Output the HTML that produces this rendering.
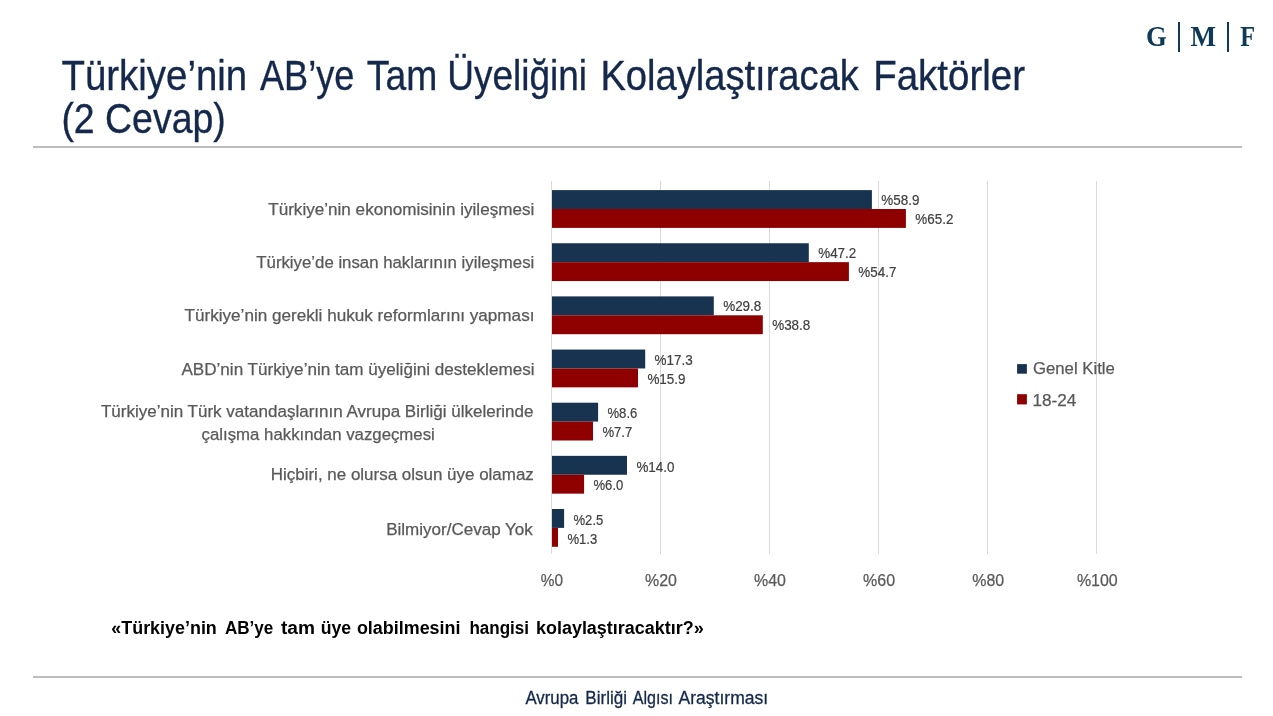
<!DOCTYPE html>
<html lang="tr">
<head>
<meta charset="utf-8">
<title>Türkiye’nin AB’ye Tam Üyeliğini Kolaylaştıracak Faktörler</title>
<style>
html,body{margin:0;padding:0;background:#fff;}
body{width:1273px;height:716px;position:relative;overflow:hidden;font-family:"Liberation Sans", Arial, Helvetica, sans-serif;}
.rule{position:absolute;left:33px;width:1209px;height:2px;background:#bdbdbd;}
.vbar{position:absolute;top:22px;height:29.5px;width:2px;background:#0f3a57;}
svg{position:absolute;left:0;top:0;width:1273px;height:716px;overflow:visible;}
text{font-family:"Liberation Sans", Arial, Helvetica, sans-serif;white-space:pre;}
.title{font-size:42.0px;fill:#14284b;stroke:#14284b;stroke-width:0.35px;}
.cat{font-size:16.7px;fill:#595959;stroke:#595959;stroke-width:0.25px;}
.dl{font-size:14.2px;fill:#404040;stroke:#404040;stroke-width:0.2px;}
.leg{font-size:17px;}
.ax{font-size:17.1px;}
.ax,.leg{fill:#595959;stroke:#595959;stroke-width:0.25px;}
.q{font-size:17.5px;font-weight:bold;fill:#000;}
.foot{font-size:18.0px;fill:#14284b;stroke:#14284b;stroke-width:0.3px;}
.logo{font-family:"Liberation Serif", "Times New Roman", serif;font-weight:bold;font-size:28.5px;fill:#0f3a57;}
</style>
</head>
<body>
<div class="rule" style="top:146px"></div>
<div class="rule" style="top:676px"></div>
<div class="vbar" style="left:1177.7px"></div>
<div class="vbar" style="left:1226.7px"></div>
<svg viewBox="0 0 1273 716" width="1273" height="716">
<g class="grid">
<rect x="551" y="181" width="1" height="373" fill="#d9d9d9"/>
<rect x="660" y="181" width="1" height="373" fill="#d9d9d9"/>
<rect x="769" y="181" width="1" height="373" fill="#d9d9d9"/>
<rect x="878" y="181" width="1" height="373" fill="#d9d9d9"/>
<rect x="987" y="181" width="1" height="373" fill="#d9d9d9"/>
<rect x="1096" y="181" width="1" height="373" fill="#d9d9d9"/>
</g>
<g class="bars">
<rect x="552.0" y="190.10" width="319.9" height="18.90" fill="#17334f"/>
<rect x="552.0" y="209.00" width="353.9" height="18.90" fill="#8e0000"/>
<rect x="552.0" y="243.25" width="256.8" height="18.90" fill="#17334f"/>
<rect x="552.0" y="262.15" width="296.9" height="18.90" fill="#8e0000"/>
<rect x="552.0" y="296.40" width="161.8" height="18.90" fill="#17334f"/>
<rect x="552.0" y="315.30" width="210.8" height="18.90" fill="#8e0000"/>
<rect x="552.0" y="349.55" width="93.2" height="18.90" fill="#17334f"/>
<rect x="552.0" y="368.45" width="86.0" height="18.90" fill="#8e0000"/>
<rect x="552.0" y="402.70" width="46.1" height="18.90" fill="#17334f"/>
<rect x="552.0" y="421.60" width="41.0" height="18.90" fill="#8e0000"/>
<rect x="552.0" y="455.85" width="75.0" height="18.90" fill="#17334f"/>
<rect x="552.0" y="474.75" width="32.1" height="18.90" fill="#8e0000"/>
<rect x="552.0" y="509.00" width="12.1" height="18.90" fill="#17334f"/>
<rect x="552.0" y="527.90" width="6.0" height="18.90" fill="#8e0000"/>
</g>
<rect x="1017.1" y="364.1" width="9.8" height="9.6" fill="#17334f"/>
<rect x="1017.1" y="394.2" width="9.8" height="10.2" fill="#8e0000"/>
<text class="title" x="61.50" y="89.90" textLength="185.66" lengthAdjust="spacingAndGlyphs">Türkiye’nin</text>
<text class="title" x="260.00" y="89.90" textLength="94.37" lengthAdjust="spacingAndGlyphs">AB’ye</text>
<text class="title" x="366.80" y="89.90" textLength="70.46" lengthAdjust="spacingAndGlyphs">Tam</text>
<text class="title" x="447.16" y="89.90" textLength="139.90" lengthAdjust="spacingAndGlyphs">Üyeliğini</text>
<text class="title" x="600.38" y="89.90" textLength="258.52" lengthAdjust="spacingAndGlyphs">Kolaylaştıracak</text>
<text class="title" x="873.15" y="89.90" textLength="151.84" lengthAdjust="spacingAndGlyphs">Faktörler</text>
<text class="title" x="61.42" y="132.90" textLength="164.35" lengthAdjust="spacingAndGlyphs">(2 Cevap)</text>
<text class="cat" x="268.20" y="215.00" textLength="266.13" lengthAdjust="spacingAndGlyphs">Türkiye’nin ekonomisinin iyileşmesi</text>
<text class="cat" x="256.30" y="267.90" textLength="278.01" lengthAdjust="spacingAndGlyphs">Türkiye’de insan haklarının iyileşmesi</text>
<text class="cat" x="184.50" y="320.60" textLength="349.95" lengthAdjust="spacingAndGlyphs">Türkiye’nin gerekli hukuk reformlarını yapması</text>
<text class="cat" x="181.40" y="374.70" textLength="353.12" lengthAdjust="spacingAndGlyphs">ABD’nin Türkiye’nin tam üyeliğini desteklemesi</text>
<text class="cat" x="100.90" y="416.80" textLength="432.59" lengthAdjust="spacingAndGlyphs">Türkiye’nin Türk vatandaşlarının Avrupa Birliği ülkelerinde</text>
<text class="cat" x="201.60" y="439.50" textLength="233.21" lengthAdjust="spacingAndGlyphs">çalışma hakkından vazgeçmesi</text>
<text class="cat" x="270.78" y="480.30" textLength="263.07" lengthAdjust="spacingAndGlyphs">Hiçbiri, ne olursa olsun üye olamaz</text>
<text class="cat" x="386.18" y="534.70" textLength="146.65" lengthAdjust="spacingAndGlyphs">Bilmiyor/Cevap Yok</text>
<text class="dl" x="881.30" y="204.60" textLength="38.10" lengthAdjust="spacingAndGlyphs">%58.9</text>
<text class="dl" x="915.30" y="223.70" textLength="38.10" lengthAdjust="spacingAndGlyphs">%65.2</text>
<text class="dl" x="818.20" y="258.00" textLength="38.10" lengthAdjust="spacingAndGlyphs">%47.2</text>
<text class="dl" x="858.30" y="277.03" textLength="38.10" lengthAdjust="spacingAndGlyphs">%54.7</text>
<text class="dl" x="723.20" y="311.40" textLength="38.10" lengthAdjust="spacingAndGlyphs">%29.8</text>
<text class="dl" x="772.20" y="330.36" textLength="38.10" lengthAdjust="spacingAndGlyphs">%38.8</text>
<text class="dl" x="654.60" y="364.80" textLength="38.10" lengthAdjust="spacingAndGlyphs">%17.3</text>
<text class="dl" x="647.40" y="383.69" textLength="38.10" lengthAdjust="spacingAndGlyphs">%15.9</text>
<text class="dl" x="607.50" y="418.20" textLength="29.80" lengthAdjust="spacingAndGlyphs">%8.6</text>
<text class="dl" x="602.40" y="437.02" textLength="29.80" lengthAdjust="spacingAndGlyphs">%7.7</text>
<text class="dl" x="636.40" y="471.60" textLength="38.10" lengthAdjust="spacingAndGlyphs">%14.0</text>
<text class="dl" x="593.50" y="490.35" textLength="29.80" lengthAdjust="spacingAndGlyphs">%6.0</text>
<text class="dl" x="573.50" y="525.00" textLength="29.80" lengthAdjust="spacingAndGlyphs">%2.5</text>
<text class="dl" x="567.40" y="543.68" textLength="29.80" lengthAdjust="spacingAndGlyphs">%1.3</text>
<text class="ax" x="540.70" y="586.20" textLength="22.26" lengthAdjust="spacingAndGlyphs">%0</text>
<text class="ax" x="645.00" y="586.20" textLength="31.87" lengthAdjust="spacingAndGlyphs">%20</text>
<text class="ax" x="754.10" y="586.20" textLength="31.87" lengthAdjust="spacingAndGlyphs">%40</text>
<text class="ax" x="863.10" y="586.20" textLength="32.08" lengthAdjust="spacingAndGlyphs">%60</text>
<text class="ax" x="972.30" y="586.20" textLength="31.87" lengthAdjust="spacingAndGlyphs">%80</text>
<text class="ax" x="1076.90" y="586.20" textLength="40.87" lengthAdjust="spacingAndGlyphs">%100</text>
<text class="leg" x="1033.00" y="374.40" textLength="81.85" lengthAdjust="spacingAndGlyphs">Genel Kitle</text>
<text class="leg" x="1032.49" y="405.50" textLength="43.87" lengthAdjust="spacingAndGlyphs">18-24</text>
<text class="q" x="111.30" y="633.60" textLength="105.51" lengthAdjust="spacingAndGlyphs">«Türkiye’nin</text>
<text class="q" x="224.90" y="633.60" textLength="48.34" lengthAdjust="spacingAndGlyphs">AB’ye</text>
<text class="q" x="281.00" y="633.60" textLength="34.01" lengthAdjust="spacingAndGlyphs">tam</text>
<text class="q" x="320.69" y="633.60" textLength="30.44" lengthAdjust="spacingAndGlyphs">üye</text>
<text class="q" x="356.90" y="633.60" textLength="103.58" lengthAdjust="spacingAndGlyphs">olabilmesini</text>
<text class="q" x="469.43" y="633.60" textLength="59.61" lengthAdjust="spacingAndGlyphs">hangisi</text>
<text class="q" x="535.97" y="633.60" textLength="167.68" lengthAdjust="spacingAndGlyphs">kolaylaştıracaktır?»</text>
<text class="foot" x="525.40" y="704.40" textLength="52.98" lengthAdjust="spacingAndGlyphs">Avrupa</text>
<text class="foot" x="585.35" y="704.40" textLength="41.69" lengthAdjust="spacingAndGlyphs">Birliği</text>
<text class="foot" x="632.70" y="704.40" textLength="40.30" lengthAdjust="spacingAndGlyphs">Algısı</text>
<text class="foot" x="678.60" y="704.40" textLength="89.57" lengthAdjust="spacingAndGlyphs">Araştırması</text>
<text class="logo" x="1146.06" y="45.90" textLength="20.80" lengthAdjust="spacingAndGlyphs">G</text>
<text class="logo" x="1190.50" y="45.90" textLength="25.60" lengthAdjust="spacingAndGlyphs">M</text>
<text class="logo" x="1240.20" y="45.90" textLength="14.85" lengthAdjust="spacingAndGlyphs">F</text>
</svg>
</body>
</html>
